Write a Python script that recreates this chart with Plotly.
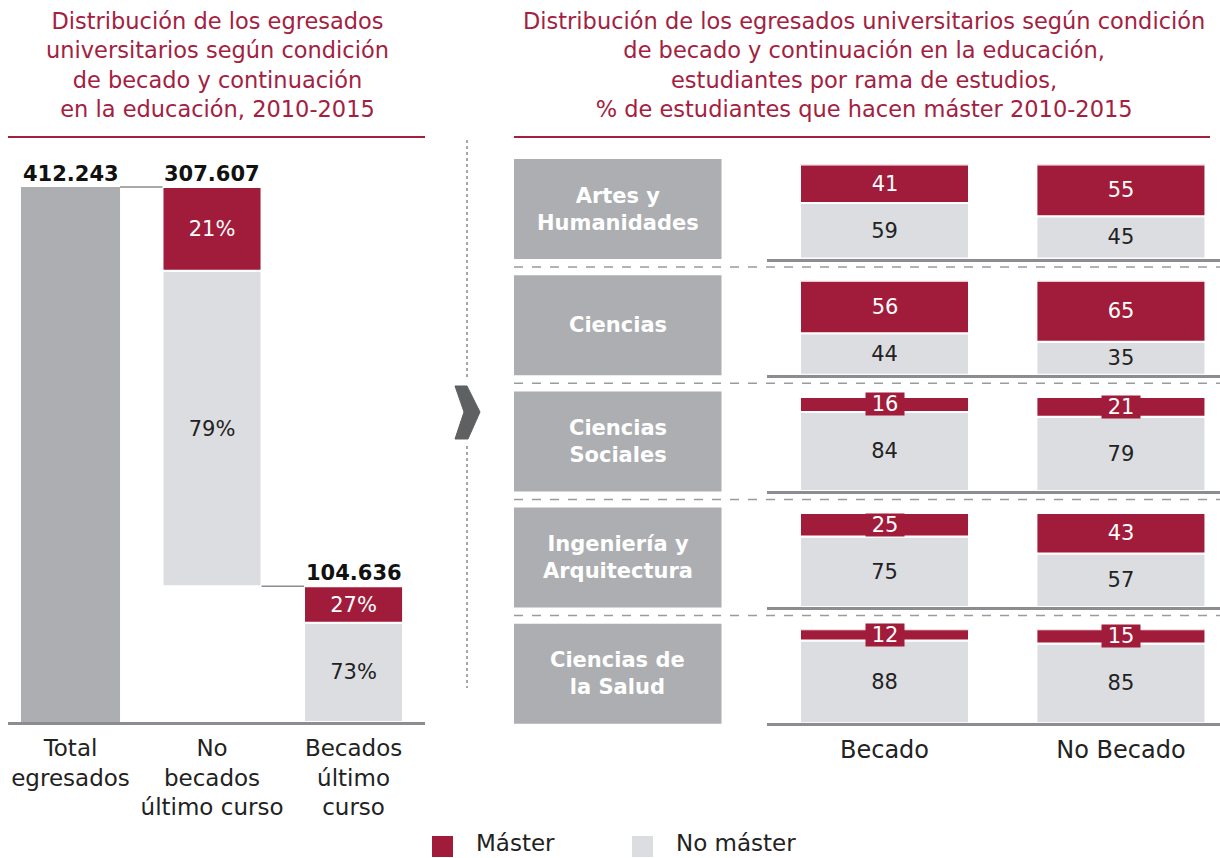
import plotly.graph_objects as go

W, H = 1220, 858

# ---- left panel: graduates by scholarship status ----
etapas = ["Total<br>egresados", "No<br>becados<br>último curso", "Becados<br>último<br>curso"]
egresados = [412243, 307607, 104636]
pct_master_izq = [21, 27]        # No becados, Becados
pct_no_master_izq = [79, 73]

# ---- right panel: % doing a master's degree by field ----
ramas = ["Artes y<br>Humanidades", "Ciencias", "Ciencias<br>Sociales",
         "Ingeniería y<br>Arquitectura", "Ciencias de<br>la Salud"]
grupos = ["Becado", "No Becado"]
master_becado = [41, 56, 16, 25, 12]
master_no_becado = [55, 65, 21, 43, 15]
no_master_becado = [59, 44, 84, 75, 88]
no_master_no_becado = [45, 35, 79, 57, 85]

ROJO = "#a01c3a"
GRIS_CLARO = "#dcdde0"
GRIS = "#adaeb1"
TITULO = "#a3213f"
TEXTO = "#222222"
LINEA = "#8c8d90"
FONT = "DejaVu Sans"


def px(x):
    return x / W


def py(y):
    return 1 - y / H


fig = go.Figure()

# ---------------- left waterfall ----------------
total, no_bec, bec = egresados
nm_vals = [no_bec * pct_no_master_izq[0] / 100, bec * pct_no_master_izq[1] / 100]
m_vals = [no_bec * pct_master_izq[0] / 100, bec * pct_master_izq[1] / 100]
nm_base = [total - no_bec, 0]
m_base = [total - no_bec + nm_vals[0], nm_vals[1]]
BW = 0.70

fig.add_trace(go.Bar(x=[0], y=[total], base=[0], width=BW,
                     marker=dict(color=GRIS, line=dict(width=0)),
                     xaxis="x", yaxis="y", hoverinfo="skip"))
fig.add_trace(go.Bar(x=[1, 2], y=nm_vals, base=nm_base, width=BW,
                     marker=dict(color=GRIS_CLARO, line=dict(color="white", width=2)),
                     text=[f"{p}%" for p in pct_no_master_izq], textposition="inside",
                     insidetextanchor="middle", constraintext="none",
                     textfont=dict(family=FONT, size=21, color=TEXTO),
                     xaxis="x", yaxis="y", hoverinfo="skip"))
fig.add_trace(go.Bar(x=[1, 2], y=m_vals, base=m_base, width=BW,
                     marker=dict(color=ROJO, line=dict(color="white", width=2)),
                     text=[f"{p}%" for p in pct_master_izq], textposition="inside",
                     insidetextanchor="middle", constraintext="none",
                     textfont=dict(family=FONT, size=21, color="white"),
                     xaxis="x", yaxis="y", hoverinfo="skip"))
# connectors between waterfall steps
fig.add_trace(go.Scatter(x=[BW / 2, 1 - BW / 2], y=[total, total], mode="lines",
                         line=dict(color=LINEA, width=1.5), xaxis="x", yaxis="y",
                         hoverinfo="skip"))
fig.add_trace(go.Scatter(x=[1 + BW / 2, 2 - BW / 2], y=[total - no_bec, total - no_bec],
                         mode="lines", line=dict(color=LINEA, width=1.5),
                         xaxis="x", yaxis="y", hoverinfo="skip"))

annotations = []
tops = [total, total, bec]
for i, v in enumerate(egresados):
    annotations.append(dict(x=i, y=tops[i], xref="x", yref="y", xanchor="center",
                            yanchor="bottom", yshift=-1, showarrow=False,
                            text=f"<b>{v:,}</b>".replace(",", "."),
                            font=dict(family=FONT, size=21, color="#111111")))

# ---------------- right panel rows ----------------
RBW = 0.715
layout_axes = {}
for r in range(len(ramas)):
    b = 258.5 + 116.2 * r
    xa = f"x{r + 2}"
    ya = f"y{r + 2}"
    nm = [no_master_becado[r], no_master_no_becado[r]]
    m = [master_becado[r], master_no_becado[r]]
    fig.add_trace(go.Bar(x=[0, 1], y=nm, base=[0, 0], width=RBW,
                         marker=dict(color=GRIS_CLARO, line=dict(color="white", width=2)),
                         text=[str(v) for v in nm], textposition="inside",
                         insidetextanchor="middle", constraintext="none",
                         textfont=dict(family=FONT, size=21, color=TEXTO),
                         xaxis=xa, yaxis=ya, hoverinfo="skip"))
    fig.add_trace(go.Bar(x=[0, 1], y=m, base=nm, width=RBW,
                         marker=dict(color=ROJO, line=dict(color="white", width=2)),
                         xaxis=xa, yaxis=ya, hoverinfo="skip"))
    for i in range(2):
        annotations.append(dict(x=i, y=nm[i] + m[i] / 2, xref=xa, yref=ya,
                                xanchor="center", yanchor="middle",
                                showarrow=False, text=str(m[i]), bgcolor=ROJO,
                                borderpad=0, width=38, height=22,
                                font=dict(family=FONT, size=21, color="white")))
    last = r == len(ramas) - 1
    layout_axes[f"xaxis{r + 2}"] = dict(
        domain=[px(767), 1.0], range=[-0.497, 1.419], anchor=ya,
        showline=True, linecolor=LINEA, linewidth=3, showgrid=False, zeroline=False,
        tickvals=[0, 1], ticktext=grupos, showticklabels=last, ticks="",
        ticklabelstandoff=3, tickfont=dict(family=FONT, size=24, color=TEXTO),
        fixedrange=True)
    layout_axes[f"yaxis{r + 2}"] = dict(
        domain=[py(b), py(b - 94)], range=[0, 100], anchor=xa, visible=False,
        fixedrange=True)
    # category label box text
    annotations.append(dict(x=px(617.5), y=py(b - 49.5), xref="paper", yref="paper",
                            xanchor="center", yanchor="middle",
                            showarrow=False, text=f"<b>{ramas[r]}</b>",
                            font=dict(family=FONT, size=21, color="white")))

shapes = []
for r in range(len(ramas)):
    b = 258.5 + 116.2 * r
    shapes.append(dict(type="rect", xref="paper", yref="paper", x0=px(514), x1=px(721.5),
                       y0=py(b + 0.5), y1=py(b - 99.5), fillcolor=GRIS,
                       line=dict(width=0), layer="below"))
    if r < len(ramas) - 1:
        yd = b + 8.5
        shapes.append(dict(type="line", xref="paper", yref="paper", x0=px(514), x1=1.0,
                           y0=py(yd), y1=py(yd), line=dict(color="#9a9b9e", width=1.5,
                                                           dash="dash")))

# title rules
shapes.append(dict(type="line", xref="paper", yref="paper", x0=px(8), x1=px(425),
                   y0=py(137), y1=py(137), line=dict(color=TITULO, width=2)))
shapes.append(dict(type="line", xref="paper", yref="paper", x0=px(514), x1=px(1210),
                   y0=py(137), y1=py(137), line=dict(color=TITULO, width=2)))
# dotted divider with chevron
for y0, y1 in [(140, 378), (446, 688)]:
    shapes.append(dict(type="line", xref="paper", yref="paper", x0=px(467), x1=px(467),
                       y0=py(y0), y1=py(y1), line=dict(color="#8a8a8a", width=1.5, dash="dot")))
chev = [(455, 386), (467, 386), (480, 412), (468, 439), (455, 439), (464, 412)]
path = "M " + " L ".join(f"{px(x):.5f},{py(y):.5f}" for x, y in chev) + " Z"
shapes.append(dict(type="path", xref="paper", yref="paper", path=path,
                   fillcolor="#5f6062", line=dict(color="#5f6062", width=1)))

# legend
for x0, col, label in [(432, ROJO, "Máster"), (632, GRIS_CLARO, "No máster")]:
    shapes.append(dict(type="rect", xref="paper", yref="paper", x0=px(x0), x1=px(x0 + 21),
                       y0=py(857), y1=py(836), fillcolor=col, line=dict(width=0)))
    annotations.append(dict(x=px(x0 + 43), y=py(843), xref="paper", yref="paper",
                            xanchor="left", yanchor="middle", showarrow=False, text=label,
                            borderpad=0, font=dict(family=FONT, size=23, color=TEXTO)))

# titles
annotations.append(dict(x=px(217), y=py(65), xref="paper", yref="paper", showarrow=False,
                        xanchor="center", yanchor="middle",
                        text="Distribución de los egresados<br>universitarios según condición"
                             "<br>de becado y continuación<br>en la educación, 2010-2015",
                        font=dict(family=FONT, size=22.5, color=TITULO)))
annotations.append(dict(x=px(864), y=py(65), xref="paper", yref="paper", showarrow=False,
                        xanchor="center", yanchor="middle",
                        text="Distribución de los egresados universitarios según condición"
                             "<br>de becado y continuación en la educación,"
                             "<br>estudiantes por rama de estudios,"
                             "<br>% de estudiantes que hacen máster 2010-2015",
                        font=dict(family=FONT, size=22.5, color=TITULO)))

fig.update_layout(
    width=W, height=H, margin=dict(l=0, r=0, t=0, b=0),
    paper_bgcolor="white", plot_bgcolor="white",
    barmode="overlay", showlegend=False,
    xaxis=dict(domain=[px(8), px(425)], range=[-0.4417, 2.505], anchor="y",
               showline=True, linecolor=LINEA, linewidth=3, showgrid=False, zeroline=False,
               tickvals=[0, 1, 2], ticktext=etapas, ticks="", ticklabelstandoff=3,
               tickfont=dict(family=FONT, size=23, color=TEXTO), fixedrange=True),
    yaxis=dict(domain=[py(722), py(150)], range=[0, total * (722 - 150) / 535],
               anchor="x", visible=False, fixedrange=True),
    shapes=shapes, annotations=annotations,
    **layout_axes,
)

fig.write_html("out.html")
